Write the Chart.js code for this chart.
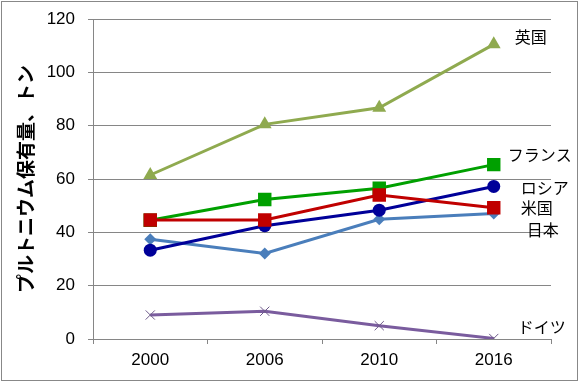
<!DOCTYPE html>
<html>
<head>
<meta charset="utf-8">
<script src="https://cdn.jsdelivr.net/npm/chart.js@4"></script>
<style>
  html, body { margin: 0; padding: 0; background: #fff; }
  #wrap { width: 581px; height: 382px; }
</style>
</head>
<body>
<div id="wrap"><canvas id="myChart" width="581" height="382"></canvas></div>
<script>
const years = ['2000', '2006', '2010', '2016'];
const countries = ['英国', 'フランス', 'ロシア', '米国', '日本', 'ドイツ'];

const ukData = [61.5, 80.5, 86.7, 110.5];
const franceData = [44.5, 52.3, 56.5, 65.4];
const russiaData = [33.3, 42.5, 48.3, 57.2];
const usData = [44.6, 44.6, 54, 49.2];
const japanData = [37.4, 32.1, 44.9, 47.1];
const germanyData = [9, 10.4, 5, 0.2];

const yTicks = [0, 20, 40, 60, 80, 100, 120];

const colors = ['#8FAA4F', '#00A000', '#000099', '#C00000', '#4A7EBB', '#7A5C9E'];
const shapes = ['triangle', 'rect', 'circle', 'rect', 'rectRot', 'crossRot'];
const sizes = [8, 9.5, 6.5, 9.5, 6, 6.5];

// label offsets from the last point (dx, dy)
const labelOffsets = [[21, -7], [14, -10], [27, 1], [27, 0], [33, 17], [24, -12]];

const seriesData = [ukData, franceData, russiaData, usData, japanData, germanyData];

const datasets = seriesData.map((d, i) => ({
  label: countries[i],
  data: d,
  borderColor: colors[i],
  backgroundColor: colors[i],
  borderWidth: 3,
  pointStyle: shapes[i],
  pointRadius: sizes[i],
  pointBorderWidth: shapes[i] === 'crossRot' ? 1 : 0,
  pointBorderColor: colors[i],
  tension: 0,
  order: i === 3 ? 0 : i + 1
}));
datasets[5].pointBorderColor = '#6E5A8A';

const seriesLabels = {
  id: 'seriesLabels',
  afterDatasetsDraw(chart) {
    const ctx = chart.ctx;
    ctx.save();
    ctx.font = '16px "Noto Sans CJK JP"';
    ctx.fillStyle = '#000';
    ctx.textAlign = 'left';
    ctx.textBaseline = 'middle';
    chart.data.datasets.forEach((ds, i) => {
      const meta = chart.getDatasetMeta(i);
      const last = meta.data[meta.data.length - 1];
      ctx.fillText(ds.label, last.x + labelOffsets[i][0], last.y + labelOffsets[i][1]);
    });
    ctx.restore();
  }
};

const frame = {
  id: 'frame',
  beforeDraw(chart) {
    const ctx = chart.ctx;
    ctx.save();
    ctx.fillStyle = '#fff';
    ctx.fillRect(0, 0, chart.width, chart.height);
    ctx.strokeStyle = '#888';
    ctx.lineWidth = 1;
    ctx.strokeRect(1.5, 1.5, 576, 379);
    ctx.restore();
  }
};

const ctx = document.getElementById('myChart').getContext('2d');
const chart = new Chart(ctx, {
  type: 'line',
  data: { labels: years, datasets: datasets },
  options: {
    responsive: false,
    animation: false,
    layout: { padding: { top: 19, right: 30, left: 0, bottom: 0 } },
    plugins: { legend: { display: false }, tooltip: { enabled: false } },
    scales: {
      x: {
        offset: true,
        grid: { offset: true, drawOnChartArea: false, drawTicks: true, tickLength: 5, color: '#868686' },
        border: { color: '#868686', width: 1 },
        ticks: { color: '#000', font: { family: 'Liberation Sans', size: 17 }, padding: 6 },
        afterFit(scale) { scale.height = 43; }
      },
      y: {
        min: 0,
        max: 120,
        afterBuildTicks(scale) { scale.ticks = yTicks.map(v => ({ value: v })); },
        grid: { color: '#868686', tickLength: 5 },
        border: { color: '#868686', width: 1 },
        ticks: { color: '#000', font: { family: 'Liberation Sans', size: 17, lineHeight: 0.6 }, padding: 13 },
        title: {
          display: true,
          text: 'プルトニウム保有量、トン',
          color: '#000',
          font: { family: 'Noto Sans CJK JP', size: 19, weight: 'bold' },
          padding: { top: 14, bottom: 4 }
        },
        afterFit(scale) { scale.width = 93; }
      }
    }
  },
  plugins: [frame, seriesLabels]
});
</script>
</body>
</html>
